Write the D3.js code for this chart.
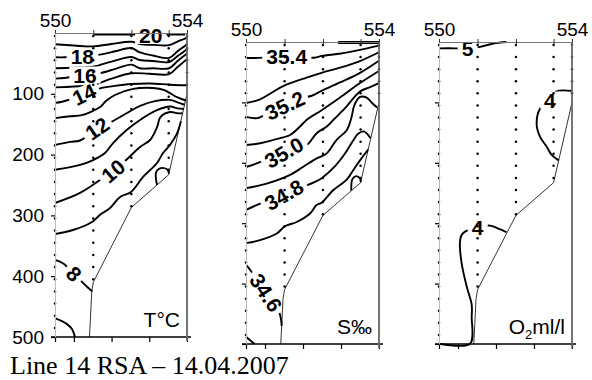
<!DOCTYPE html>
<html><head><meta charset="utf-8">
<script src="https://cdn.jsdelivr.net/npm/d3@7"></script>
<style>
html,body{margin:0;padding:0;background:#fff;}
svg{display:block;}
</style></head><body>
<svg id="chart" width="592" height="380"></svg>
<script>
// ---------------- data ----------------
const stations = [550, 551, 552, 553, 554];
const stationDist = [0, 20.3, 40.5, 60.3, 70];
const stationMaxDepth = [500, 410, 287, 233, 98];
const sampleDepths = [5,25,45,65,85,105,125,145,165,185,205,225,245,265,285,305,325,345,365,385,405,425,445,465,485];
const depthTicks = [100, 200, 300, 400, 500];
const distTicks = [0, 10, 30, 50, 70];
const bathymetry = [[70,100],[60.3,233],[40.5,287],[20.3,410],[19.5,425],[18.3,500]];

// Temperature isotherms (distance, depth)
const tempLevels = [20, 19, 18, 17, 16, 15, 14, 13, 12, 11, 10, 9, 9, 8, 7];
const tempLines = [
  [[20.3,2.7],[69,2.7]],
  [[0,18.6],[10,20.5],[20.2,22.2],[30,18],[40.5,14.5],[45,18],[52,19.5],[60.5,20],[65,14],[69.5,8.2],[70,6.5]],
  [[0,40],[5,40],[14.5,38],[23.9,35.6],[32,30],[40.5,24.7],[45,32],[52,37],[60.5,41],[65,30],[69.5,19.7],[70,18]],
  [[0,58],[10,57],[20.2,55.4],[30,47],[40.5,39.5],[45,44.4],[52,46],[60.5,47.7],[65,38],[69.5,28],[70,26.3]],
  [[0,75],[5,74],[16,69],[24,66],[32,59],[40.5,52],[45,58],[52,58],[60.5,58],[65,46],[69.5,35],[70,34]],
  [[0,89.4],[10,88],[20.2,85.6],[30,75],[40.5,66.3],[50,67],[60.5,67.5],[65,56],[69.5,44.4],[70,43.6]],
  [[0,115],[3.7,113],[10,107],[15.4,101],[20,96],[23.9,91],[31.8,87],[40.3,84],[50.4,83],[61,85],[70,86]],
  [[0,140],[8,137],[14.3,135],[20.2,128],[23.9,121.7],[27,112],[31.8,102],[41.4,92],[52,90.5],[58,94],[61,99],[65,106],[69.3,111]],
  [[0,184],[8,179],[13.3,176.8],[18,167],[22.3,157],[26,150],[30.2,145.6],[38.2,131.6],[45.1,120],[53,112],[61,110],[65,114],[68.8,118]],
  [[0,225],[13.3,217],[20.2,209],[26.5,197.4],[30.8,181],[38,159.5],[45.1,143],[54.1,127],[61,121],[65,124],[68.2,125]],
  [[0,279.6],[13.3,263],[23.9,241.8],[30.8,227],[37.7,209],[45.1,187.5],[50.4,176],[54.1,155],[56,138],[61,130],[65,132],[67.6,132]],
  [[0,330.6],[9.5,324],[19.6,310.8],[23.9,299],[29.2,287.8],[34.5,269.7],[40.3,261.5],[46.7,236.8],[54.1,213.8],[57.3,197.4],[61,184],[64.7,165],[66.8,145]],
  [[54.1,250],[53.6,229],[55.7,222.6],[59.4,224],[60.5,231]],
  [[0,373],[4.4,379],[10,396],[16.8,417],[19.8,425]],
  [[0,469],[6,478],[9,487],[10.6,500]]
];
const tempLabels = [
  {v:"20", d:50.8, z:4, a:0},
  {v:"18", d:14.5, z:38, a:0},
  {v:"16", d:15.9, z:69, a:0},
  {v:"14", d:15.4, z:101, a:-25},
  {v:"12", d:22.3, z:157, a:-35},
  {v:"10", d:30.8, z:227, a:-40},
  {v:"8",  d:10,   z:396, a:45}
];

// Salinity isohalines
const salLevels = [35.5, 35.4, 35.3, 35.2, 35.1, 35.0, 34.9, 34.8, 34.7, 34.7, 34.6, 34.5];
const salLines = [
  [[48.5,0.8],[70,0.8]],
  [[0,26.5],[5,26.5],[12,25.5],[21,24.5],[30,25.5],[36,26],[40,23],[50,19],[60,13],[70,6]],
  [[0,101],[7.4,95],[13.5,84],[19.6,73],[31.9,59],[39.8,51],[49.5,42.5],[60,31.5],[70,17]],
  [[0,124],[6,126],[13,115],[20.5,104],[27,95],[34.6,89],[39.8,81],[49.5,67],[60,51],[70,31]],
  [[0,170.5],[7.4,167.7],[14.4,162],[23.2,154],[28.4,140],[31.9,129],[39.8,113],[49.5,92],[60,68],[70,48]],
  [[0,207],[5.6,201],[12,193],[20,183],[26,176],[31.9,171],[37.2,151],[42.5,140],[46,129],[52,110],[60,82],[65,75],[70,68]],
  [[0,242],[11.4,234],[23.2,220],[30.2,206.5],[37.2,192.7],[42.5,184.4],[47.7,162],[53,146],[55.5,125],[57,105],[60,91],[63.5,92],[66.2,100.5],[69,108.5]],
  [[0,278],[5.6,270],[20,253],[30,240],[36,232],[40,225],[47,205],[52,185],[56,165],[59,152],[62,148],[65.5,159]],
  [[0,333],[7.4,328],[16.2,317],[20.5,305],[26.7,298],[33.7,284],[37.1,270],[39.8,266],[46,245],[53,228],[56.5,212],[60,196],[64.3,178]],
  [[55.4,246],[56,227],[58,222],[60,226],[60.4,232]],
  [[0.3,370],[2.1,377],[10.5,415],[17.5,448],[18.8,470]],
  [[0,488],[4.5,500]]
];
const salLabels = [
  {v:"35.4", d:21.4, z:24.5, a:0},
  {v:"35.2", d:20.5, z:105, a:-25},
  {v:"35.0", d:20, z:183, a:-30},
  {v:"34.8", d:20, z:253, a:-30},
  {v:"34.6", d:10.5, z:415, a:57}
];

// Oxygen
const oxyLevels = [5, 4, 4];
const oxyLines = [
  [[0,10.5],[8.5,10.5],[15,11],[21.6,8],[28.6,2.5],[35.5,0]],
  [[70,81],[61.6,82],[58.4,96],[53.2,110],[51.4,137],[53.2,157],[56.7,173.5],[59.3,187],[63,196]],
  [[35.5,315],[32,310],[26.8,304],[20.3,307],[13.7,314],[11.9,319.5],[11,333],[11.9,366],[14.6,405],[17.2,435],[17.2,455],[16.3,499.5],[0,499.5]]
];
const oxyLabels = [
  {v:"5", d:15, z:11, a:0},
  {v:"4", d:58.4, z:96, a:0},
  {v:"4", d:20.3, z:307, a:0}
];

const titleText = "Line 14 RSA \u2013 14.04.2007";

// ---------------- drawing ----------------
const W = 592, H = 380;
const svg = d3.select('#chart');
svg.append('rect').attr('width', W).attr('height', H).attr('fill', '#fff');
const defs = svg.append('defs');
const SANS = '"Liberation Sans", Arial, sans-serif';

const panels = [
  {x0:55,  x1:187, y0:33, y1:337, lines:tempLines, levels:tempLevels, labels:tempLabels, depthLabels:true},
  {x0:246, x1:379, y0:42, y1:344, lines:salLines,  levels:salLevels,  labels:salLabels,  depthLabels:false},
  {x0:439, x1:572, y0:42, y1:344, lines:oxyLines,  levels:oxyLevels,  labels:oxyLabels,  depthLabels:false}
];

panels.forEach((p, i) => {
  const x = d3.scaleLinear().domain([0, 70]).range([p.x0, p.x1]);
  const y = d3.scaleLinear().domain([0, 500]).range([p.y0, p.y1]);
  const g = svg.append('g');

  // station sample dots
  const dots = [];
  stationDist.forEach((sd, k) => {
    sampleDepths.forEach(z => { if (z <= stationMaxDepth[k]) dots.push([sd, z]); });
  });
  g.append('g').selectAll('circle').data(dots).join('circle')
    .attr('cx', d => x(d[0])).attr('cy', d => y(d[1])).attr('r', 1.25).attr('fill', '#000');

  // bathymetry
  const line = d3.line().x(d => x(d[0])).y(d => y(d[1]));
  g.append('path').attr('d', line(bathymetry)).attr('fill', 'none')
    .attr('stroke', '#000').attr('stroke-width', 0.8);

  // mask for labels
  const mask = defs.append('mask').attr('id', 'm' + i).attr('maskUnits', 'userSpaceOnUse')
    .attr('x', 0).attr('y', 0).attr('width', W).attr('height', H);
  mask.append('rect').attr('width', W).attr('height', H).attr('fill', '#fff');

  const smooth = d3.line().x(d => x(d[0])).y(d => y(d[1])).curve(d3.curveCatmullRom.alpha(0.5));
  const gl = g.append('g').attr('mask', `url(#m${i})`);
  gl.selectAll('path').data(p.lines).join('path')
    .attr('d', d => smooth(d)).attr('fill', 'none').attr('stroke', '#000')
    .attr('stroke-width', (d, k) => (p.levels[k] === 35.5 ? 2.8 : 1.9))
    .attr('stroke-linejoin', 'round').attr('stroke-linecap', 'butt');

  const glab = g.append('g');
  p.labels.forEach(l => {
    const tr = `translate(${x(l.d)},${y(l.z)}) rotate(${l.a})`;
    const t = glab.append('text').attr('transform', tr)
      .attr('text-anchor', 'middle').attr('dy', '0.36em')
      .attr('font-family', SANS).attr('font-weight', 'bold').attr('font-size', 21)
      .attr('fill', '#000').text(l.v);
    const bb = t.node().getBBox();
    mask.append('rect').attr('transform', tr)
      .attr('x', bb.x - 4).attr('y', bb.y + 3).attr('width', bb.width + 8).attr('height', bb.height - 6)
      .attr('fill', '#000');
  });

  // top axis (stations)
  const top = g.append('g').attr('transform', `translate(0,${p.y0})`)
    .call(d3.axisTop(x).tickValues(stationDist).tickSizeInner(3).tickSizeOuter(0)
      .tickPadding(3).tickFormat((d, k) => (k === 0 ? stations[0] : (k === stationDist.length - 1 ? stations[4] : ''))));
  top.select('.domain').attr('stroke', '#777').attr('stroke-width', 1);
  top.selectAll('.tick line').attr('y1', 3).attr('y2', -3).attr('stroke', '#333');
  top.selectAll('.tick text').attr('font-family', SANS).attr('font-size', 19).attr('fill', '#000').attr('dy', '0');

  // bottom axis
  const bot = g.append('g').attr('transform', `translate(0,${p.y1})`)
    .call(d3.axisBottom(x).tickValues(distTicks).tickSizeInner(5).tickSizeOuter(0).tickFormat(''));
  bot.select('.domain').attr('stroke', '#000').attr('stroke-width', 1.6)
    .attr('d', `M${p.x0 - 4},0H${p.x1 + 4}`);
  bot.selectAll('.tick line').attr('stroke', '#000').attr('stroke-width', 1.2);

  // left axis (depth)
  const left = g.append('g').attr('transform', `translate(${p.x0},0)`)
    .call(d3.axisLeft(y).tickValues(depthTicks).tickSizeInner(4).tickSizeOuter(0)
      .tickPadding(7).tickFormat(p.depthLabels ? d3.format('d') : ''));
  left.select('.domain').attr('stroke', '#bbb').attr('stroke-width', 1);
  left.selectAll('.tick line').attr('stroke', '#000').attr('stroke-width', 1.2);
  left.selectAll('.tick text').attr('font-family', SANS).attr('font-size', 19).attr('fill', '#000');

  // right border
  g.append('line').attr('x1', p.x1).attr('x2', p.x1).attr('y1', p.y0).attr('y2', p.y1 + 4)
    .attr('stroke', '#666').attr('stroke-width', 1.8);

  // panel parameter label
  const pl = g.append('text').attr('x', p.x1 - 7).attr('y', p.y1 - 10)
    .attr('text-anchor', 'end').attr('font-family', SANS).attr('font-size', 21).attr('fill', '#000');
  if (i === 0) pl.text('T\u00B0C');
  else if (i === 1) pl.text('S\u2030');
  else {
    pl.append('tspan').text('O');
    pl.append('tspan').attr('font-size', 13).attr('dy', 5).text('2');
    pl.append('tspan').attr('dy', -5).text('ml/l');
  }
});

svg.append('text').attr('x', 10).attr('y', 374)
  .attr('font-family', '"Liberation Serif", "Times New Roman", serif')
  .attr('font-size', 26).attr('fill', '#000').text(titleText);
</script>
</body></html>
